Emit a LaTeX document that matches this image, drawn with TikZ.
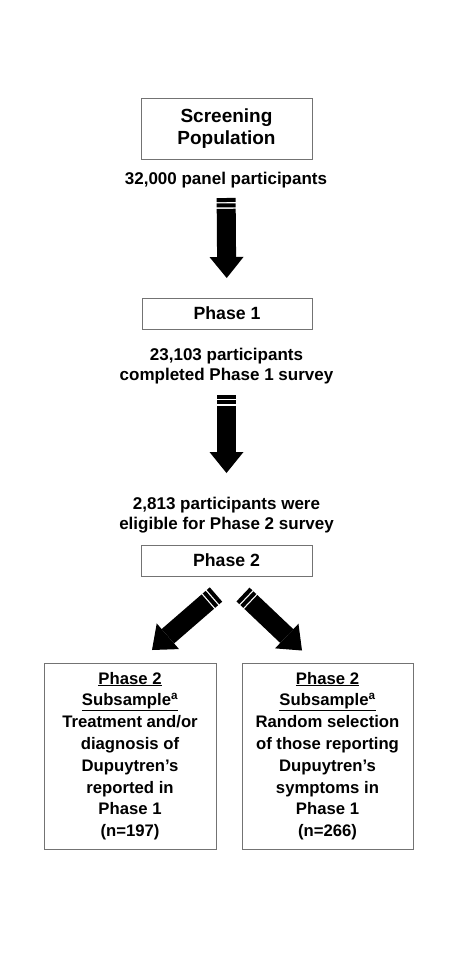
\documentclass[tikz,border=0pt]{standalone}
\usepackage{fontspec}
\setmainfont{Liberation Sans}
\usetikzlibrary{arrows.meta}
\tikzset{
  every node/.style={font=\fontsize{17}{20}\selectfont\bfseries},
  box/.style={draw=black!55, line width=0.9pt, align=center, inner sep=0pt},
  lbl/.style={align=center, inner sep=0pt},
  fatarrow/.style={line width=19pt,
    dash pattern=on 4pt off 1.4pt on 4pt off 1.4pt on 500pt,
    -{Triangle[width=34pt,length=21pt,line width=0pt]}}
}

\begin{document}
\begin{tikzpicture}[x=1pt,y=-1pt]
	%%%%% START %%%%%
	\useasboundingbox (0,0) rectangle (464,962);
	
	\node[box, minimum width=171pt, minimum height=61pt, font=\fontsize{19}{22}\selectfont\bfseries] (scr) at (226.5,128.5) {Screening\\Population};
	\node[lbl] (t1) at (226,180.5) {32,000 panel participants};
	
	\node[box, minimum width=170pt, minimum height=31pt, font=\fontsize{17.7}{20}\selectfont\bfseries] (p1) at (227,313.5) {Phase 1};
	\node[lbl] (t2) at (226.5,366.5) {23,103 participants\\completed Phase 1 survey};
	
	\node[lbl] (t3) at (226.5,515.5) {2,813 participants were\\eligible for Phase 2 survey};
	\node[box, minimum width=171pt, minimum height=31pt, font=\fontsize{17.7}{20}\selectfont\bfseries] (p2) at (226.5,560.5) {Phase 2};
	
	\node[box, minimum width=172pt, minimum height=186pt, font=\fontsize{16.7}{21.8}\selectfont\bfseries] (s1) at (130,756)
		{\underline{Phase 2}\\\underline{Subsample\textsuperscript{a}}\\Treatment and/or\\diagnosis of\\Dupuytren’s\\reported in\\Phase 1\\(n=197)};
	\node[box, minimum width=171pt, minimum height=186pt, font=\fontsize{16.7}{21.8}\selectfont\bfseries] (s2) at (327.5,756)
		{\underline{Phase 2}\\\underline{Subsample\textsuperscript{a}}\\Random selection\\of those reporting\\Dupuytren’s\\symptoms in\\Phase 1\\(n=266)};
	
	% arrows
	\draw[fatarrow, shorten <=17.5pt, shorten >=35.5pt] (t1.center) -- (p1.center);
	\draw[fatarrow, shorten <=28.5pt, shorten >=42.5pt] (t2.center) -- (t3.center);
	
	\coordinate (l0) at (216,594.5);
	\coordinate (l1) at (152,650);
	\coordinate (r0) at (243,594.5);
	\coordinate (r1) at (302,650.5);
	\draw[fatarrow] (l0) -- (l1);
	\draw[fatarrow] (r0) -- (r1);
	
	%%%%% END %%%%%
\end{tikzpicture}
\end{document}
